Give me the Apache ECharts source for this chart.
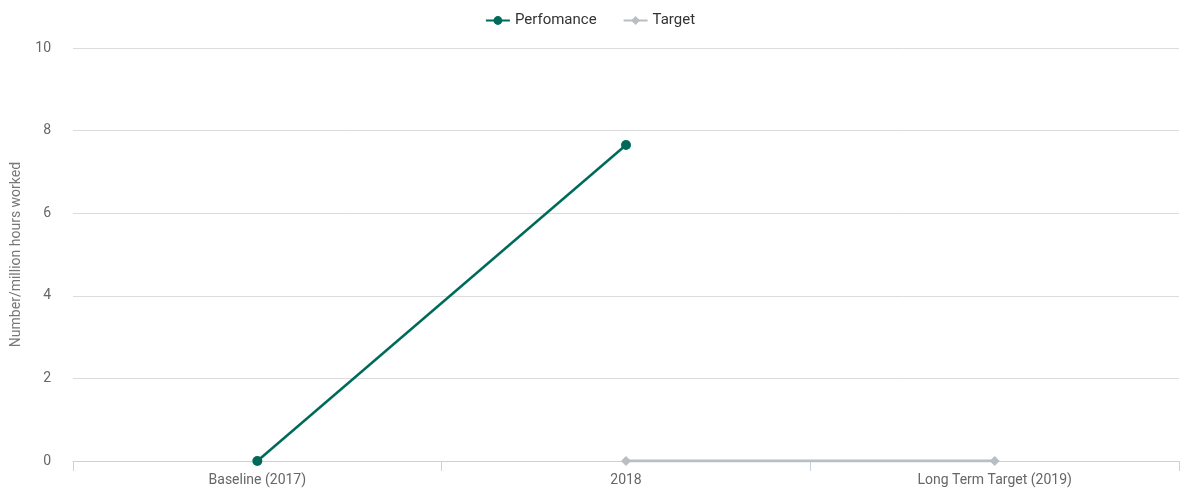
<!DOCTYPE html>
<html><head><meta charset="utf-8">
<script src="https://cdn.jsdelivr.net/npm/echarts@6/dist/echarts.min.js"></script>
<style>html,body{margin:0;padding:0;background:#fff}#c{width:1180px;height:488px}</style>
</head><body><div id="c"></div>
<script>
const categories = ['Baseline (2017)', '2018', 'Long Term Target (2019)'];
const performance = [0, 7.65, null];
const target = [null, 0, 0];
const yTicks = {min: 0, max: 10, interval: 2};

const chart = echarts.init(document.getElementById('c'));
chart.setOption({
  textStyle: {fontFamily: 'Roboto'},
  legend: {
    top: 8, left: 'center', itemGap: 26, itemWidth: 24, itemHeight: 11,
    textStyle: {color: '#333', fontSize: 15, fontFamily: 'Roboto'},
    data: ['Perfomance', 'Target']
  },
  grid: {left: 73, right: 1, top: 48, bottom: 27, containLabel: false},
  xAxis: {
    type: 'category', data: categories, boundaryGap: true,
    axisLine: {lineStyle: {color: '#c6d2de'}},
    axisTick: {show: true, length: 10, lineStyle: {color: '#c6d2de'}},
    axisLabel: {color: '#666', fontSize: 14, margin: 12}
  },
  yAxis: {
    type: 'value', min: yTicks.min, max: yTicks.max, interval: yTicks.interval,
    name: 'Number/million hours worked', nameLocation: 'middle', nameGap: 50,
    nameTextStyle: {color: '#777', fontSize: 14},
    axisLine: {show: false}, axisTick: {show: false},
    axisLabel: {color: '#666', fontSize: 14, margin: 22},
    splitLine: {lineStyle: {color: '#dcdcdc'}}
  },
  series: [
    {name: 'Perfomance', type: 'line', data: performance, symbol: 'circle', symbolSize: 10,
     itemStyle: {color: '#006a5a'}, lineStyle: {color: '#006a5a', width: 2.5}, connectNulls: false},
    {name: 'Target', type: 'line', data: target, symbol: 'diamond', symbolSize: 10,
     itemStyle: {color: '#b9bec3'}, lineStyle: {color: '#b9bec3', width: 3}}
  ]
});
</script></body></html>
